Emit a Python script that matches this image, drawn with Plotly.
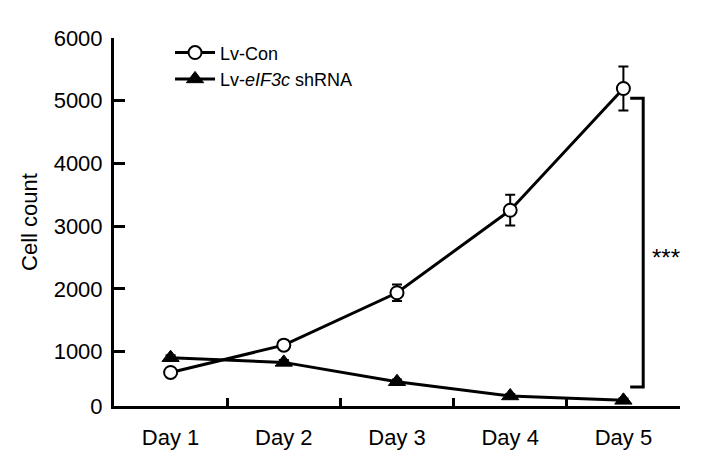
import plotly.graph_objects as go

# ---- data ----
days = ["Day 1", "Day 2", "Day 3", "Day 4", "Day 5"]
day_pos = [1, 2, 3, 4, 5]
con_mean = [670, 1105, 1940, 3255, 5195]
con_err = [50, 70, 130, 245, 350]
kd_mean = [905, 830, 522, 295, 225]
kd_err = [40, 40, 35, 30, 30]
y_ticks = [135, 1000, 2000, 3000, 4000, 5000, 6000]
y_tick_text = ["0", "1000", "2000", "3000", "4000", "5000", "6000"]
bracket_x = [5.06, 5.175, 5.175, 5.06]
bracket_y = [5040, 5040, 438, 438]
sig_label = "***"

FONT = "Liberation Sans, Arial, sans-serif"

fig = go.Figure()
fig.add_trace(go.Scatter(
    x=day_pos, y=con_mean, name="Lv-Con", mode="lines+markers",
    line=dict(color="black", width=3),
    marker=dict(symbol="circle", size=13, color="white",
                line=dict(color="black", width=2)),
    error_y=dict(type="data", array=con_err, color="black", thickness=2, width=5),
))
fig.add_trace(go.Scatter(
    x=day_pos, y=kd_mean, name="Lv-<i>eIF3c</i> shRNA", mode="lines+markers",
    line=dict(color="black", width=3),
    marker=dict(symbol="triangle-up", size=15, color="black",
                line=dict(color="black", width=1)),
    error_y=dict(type="data", array=kd_err, color="black", thickness=2, width=5),
))
fig.add_trace(go.Scatter(
    x=bracket_x, y=bracket_y, mode="lines", showlegend=False,
    line=dict(color="black", width=3), hoverinfo="skip",
))
# category labels axis
fig.add_trace(go.Scatter(x=day_pos, y=[None] * 5, xaxis="x2", showlegend=False,
                         hoverinfo="skip"))

fig.add_annotation(x=5.375, y=2570, text=sig_label, showarrow=False,
                   font=dict(family=FONT, size=24, color="black"),
                   xref="x", yref="y", yshift=-4)

fig.update_layout(
    width=702, height=464,
    margin=dict(l=106, r=30, t=30, b=66),
    paper_bgcolor="white", plot_bgcolor="white",
    font=dict(family=FONT, size=21, color="black"),
    showlegend=True,
    legend=dict(x=0.099, y=1.01, xanchor="left", yanchor="top",
                font=dict(family=FONT, size=18), bgcolor="rgba(0,0,0,0)",
                itemwidth=40),
    xaxis=dict(range=[0.5, 5.5], tickvals=[1.5, 2.5, 3.5, 4.5, 5.5],
               ticks="inside", ticklen=8, tickwidth=2.5, tickcolor="black",
               showticklabels=False, showline=True, linewidth=3, linecolor="black",
               showgrid=False, zeroline=False, automargin=False),
    xaxis2=dict(range=[0.5, 5.5], overlaying="x", anchor="y", side="bottom",
                tickvals=day_pos, ticktext=days, ticks="", showline=False,
                showgrid=False, zeroline=False, ticklabelstandoff=16,
                automargin=False, tickfont=dict(family=FONT, size=22)),
    yaxis=dict(range=[135, 6000], tickvals=y_ticks, ticktext=y_tick_text,
               ticks="inside", ticklen=11, tickwidth=2.5, tickcolor="black",
               showline=True, linewidth=3, linecolor="black",
               showgrid=False, zeroline=False, ticklabelstandoff=4,
               automargin=False, tickfont=dict(family=FONT, size=22),
               title=dict(text="Cell count", standoff=10,
                          font=dict(family=FONT, size=22))),
)

fig.write_html("out.html")
